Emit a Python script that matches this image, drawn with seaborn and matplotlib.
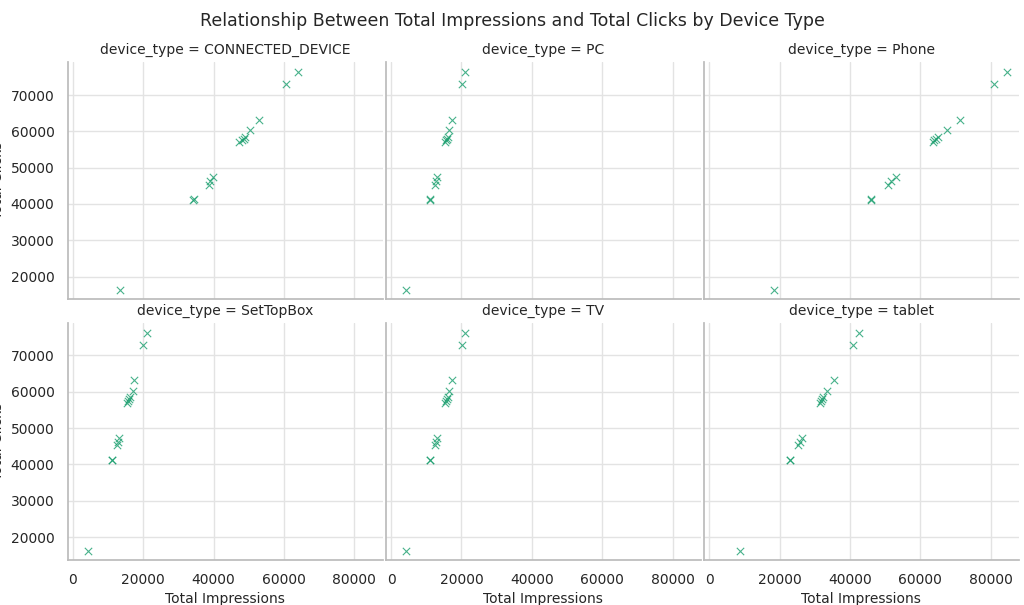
import matplotlib
matplotlib.use("Agg")
import matplotlib.pyplot as plt
import seaborn as sns
import pandas as pd

devices = ["CONNECTED_DEVICE", "PC", "Phone", "SetTopBox", "TV", "tablet"]
clicks = [16300, 41200, 41300, 45300, 46300, 47300, 57000, 57600, 58000, 58500, 60300, 63200, 73000, 76200]
imp_connected = [13400, 34200, 34300, 38600, 39000, 39900, 47300, 48000, 48500, 49000, 50400, 52800, 60600, 63900]
imp_pc = [4300, 11000, 11100, 12400, 12700, 13000, 15300, 15600, 15900, 16100, 16400, 17300, 20200, 21000]
imp_phone = [18400, 45900, 46000, 50900, 51800, 53200, 63500, 64000, 64500, 65000, 67500, 71200, 80900, 84700]
imp_stb = [4300, 11000, 11100, 12600, 12800, 13000, 15400, 15700, 16000, 16300, 17000, 17300, 20000, 21200]
imp_tv = [4300, 11000, 11100, 12400, 12700, 13000, 15300, 15600, 15900, 16100, 16400, 17300, 20200, 21000]
imp_tablet = [8900, 22900, 23000, 25300, 25900, 26400, 31500, 31900, 32200, 32400, 33600, 35400, 41000, 42600]

imps = [imp_connected, imp_pc, imp_phone, imp_stb, imp_tv, imp_tablet]
rows = []
for d, xs in zip(devices, imps):
    for x, y in zip(xs, clicks):
        rows.append({"device_type": d, "Total Impressions": x, "Total Clicks": y})
df = pd.DataFrame(rows)

sns.set_theme(style="whitegrid", rc={"font.size": 10, "axes.labelsize": 10, "axes.titlesize": 10,
                                     "xtick.labelsize": 10, "ytick.labelsize": 10,
                                     "grid.color": "#e3e3e3", "axes.edgecolor": "#bbbbbb"})
plt.rcParams["font.family"] = ["DejaVu Sans"]
g = sns.relplot(data=df, x="Total Impressions", y="Total Clicks", col="device_type",
                col_wrap=3, kind="scatter", marker="x", color="#1a9e6e", alpha=0.8,
                s=28, linewidth=0.8, height=2.95, aspect=1.14,
                col_order=devices)
g.set(xlim=(-1500, 88000), ylim=(13800, 79000))
g.fig.suptitle("Relationship Between Total Impressions and Total Clicks by Device Type", fontsize=12.5)
g.fig.set_size_inches(10.24, 6.05)
g.fig.subplots_adjust(left=0.066, right=0.995, bottom=0.075, top=0.897, wspace=0.01, hspace=0.1)
g.fig.savefig("out.png", dpi=100)
